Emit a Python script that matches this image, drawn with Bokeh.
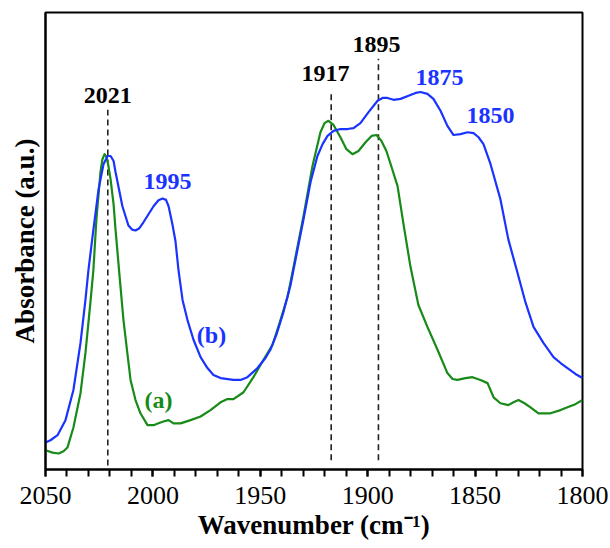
from bokeh.plotting import figure
from bokeh.models import Range1d, FixedTicker, ColumnDataSource
from bokeh.core.properties import value
from bokeh.embed import file_html
from bokeh.resources import INLINE

# ---- data ----
wn_a = [2050.0, 2046.7, 2043.9, 2041.6, 2039.8, 2037.0, 2033.7, 2031.4, 2029.1, 2027.7,
        2026.3, 2024.4, 2023.5, 2022.5, 2021.6, 2020.7, 2019.7, 2018.3, 2017.4, 2015.5,
        2013.7, 2011.8, 2010.4, 2008.1, 2005.8, 2002.5, 1999.7, 1997.4, 1995.1, 1992.7,
        1990.4, 1987.1, 1982.5, 1977.8, 1973.2, 1968.5, 1965.3, 1962.5, 1957.8, 1953.2,
        1948.5, 1944.3, 1940.6, 1937.3, 1934.5, 1929.9, 1925.7, 1922.0, 1920.1, 1918.3,
        1915.9, 1912.7, 1909.9, 1907.1, 1904.3, 1901.0, 1898.2, 1895.9, 1893.6, 1891.3,
        1888.9, 1886.1, 1883.3, 1880.1, 1876.4, 1872.2, 1867.5, 1862.9, 1860.5, 1858.2,
        1854.5, 1851.2, 1847.5, 1844.2, 1841.4, 1838.2, 1834.5, 1832.1, 1829.8, 1827.0,
        1824.2, 1820.5, 1814.9, 1810.2, 1807.0, 1803.3, 1800.0]
abs_a = [0.042, 0.037, 0.035, 0.040, 0.048, 0.092, 0.167, 0.255, 0.365, 0.437,
         0.547, 0.651, 0.679, 0.690, 0.684, 0.664, 0.635, 0.580, 0.525, 0.422,
         0.327, 0.251, 0.196, 0.152, 0.123, 0.097, 0.097, 0.101, 0.105, 0.108,
         0.101, 0.101, 0.108, 0.116, 0.130, 0.147, 0.154, 0.154, 0.169, 0.202,
         0.240, 0.273, 0.327, 0.378, 0.444, 0.554, 0.664, 0.738, 0.758, 0.763,
         0.754, 0.727, 0.701, 0.690, 0.697, 0.716, 0.730, 0.732, 0.719, 0.697,
         0.662, 0.620, 0.536, 0.444, 0.360, 0.312, 0.262, 0.211, 0.198, 0.196,
         0.200, 0.202, 0.196, 0.189, 0.158, 0.145, 0.141, 0.147, 0.152, 0.145,
         0.136, 0.123, 0.123, 0.130, 0.136, 0.143, 0.152]

wn_b = [2050.0, 2047.7, 2044.4, 2040.7, 2037.0, 2033.7, 2031.4, 2030.0, 2027.7, 2025.3,
        2023.0, 2021.1, 2019.7, 2018.3, 2017.4, 2014.2, 2011.4, 2009.7, 2008.1, 2006.3,
        2004.4, 1999.7, 1997.4, 1995.5, 1993.9, 1992.7, 1990.9, 1989.5, 1988.1, 1986.2,
        1983.9, 1981.1, 1977.8, 1974.6, 1971.8, 1968.5, 1962.5, 1959.2, 1956.0, 1951.3,
        1947.6, 1945.3, 1942.5, 1939.2, 1935.9, 1932.7, 1929.9, 1926.6, 1923.4, 1921.0,
        1918.7, 1915.9, 1912.7, 1909.4, 1906.6, 1903.4, 1899.6, 1895.4, 1893.1, 1890.8,
        1888.0, 1884.7, 1881.0, 1877.7, 1875.4, 1872.2, 1869.4, 1866.1, 1862.9, 1860.1,
        1856.8, 1853.5, 1850.7, 1848.4, 1846.1, 1842.8, 1838.2, 1834.5, 1830.3, 1826.5,
        1822.8, 1818.2, 1813.5, 1810.2, 1807.0, 1803.3, 1800.0]
abs_b = [0.059, 0.064, 0.075, 0.108, 0.174, 0.277, 0.371, 0.437, 0.525, 0.613,
         0.668, 0.686, 0.686, 0.675, 0.651, 0.576, 0.534, 0.525, 0.523, 0.528,
         0.541, 0.576, 0.589, 0.593, 0.590, 0.576, 0.536, 0.500, 0.437, 0.371,
         0.327, 0.284, 0.246, 0.222, 0.207, 0.200, 0.196, 0.196, 0.202, 0.222,
         0.244, 0.262, 0.295, 0.345, 0.404, 0.481, 0.547, 0.629, 0.686, 0.712,
         0.730, 0.741, 0.745, 0.745, 0.747, 0.758, 0.782, 0.807, 0.813, 0.813,
         0.809, 0.811, 0.818, 0.824, 0.826, 0.822, 0.811, 0.785, 0.752, 0.732,
         0.734, 0.738, 0.736, 0.727, 0.712, 0.668, 0.591, 0.503, 0.431, 0.365,
         0.312, 0.277, 0.246, 0.233, 0.222, 0.209, 0.200]

x_ticks = [2050, 2000, 1950, 1900, 1850, 1800]
minor_ticks = list(range(1800, 2051, 10))

marker_pos = [2021, 1917, 1895]
marker_bottom = [0.009, 0.020, 0.020]
marker_top = [0.787, 0.829, 0.899]

label_text = ["2021", "1917", "1895", "1995", "1875", "1850", "(b)", "(a)"]
label_x = [2021, 1919.6, 1895.9, 1993.2, 1866.6, 1842.8, 1972.7, 1997.4]
label_y = [0.818, 0.866, 0.930, 0.631, 0.857, 0.774, 0.295, 0.152]
label_color = ["black", "black", "black", "#1a33ff", "#1a33ff", "#1a33ff", "#1a33ff", "#178a17"]

GREEN = "#178a17"
BLUE = "#1a33ff"
FONT = "Liberation Serif"

p = figure(width=610, height=548, output_backend="svg", toolbar_location=None,
           x_range=Range1d(2050, 1800), y_range=Range1d(0, 1),
           min_border_left=45, min_border_right=28, min_border_top=12, min_border_bottom=79)
p.background_fill_color = "white"
p.border_fill_color = "white"
p.outline_line_color = "black"
p.outline_line_width = 2
p.xgrid.visible = False
p.ygrid.visible = False

# dashed markers
p.segment(x0=marker_pos, y0=marker_bottom, x1=marker_pos, y1=marker_top,
          line_color="#222222", line_width=1.6, line_dash="6 4")

p.line(wn_a, abs_a, line_color=GREEN, line_width=2.2, line_join="round")
p.line(wn_b, abs_b, line_color=BLUE, line_width=2.2, line_join="round")

src = ColumnDataSource(dict(x=label_x, y=label_y, t=label_text, c=label_color))
p.text(x="x", y="y", text="t", text_color="c", source=src,
       text_font=value(FONT), text_font_style="bold", text_font_size="24px",
       text_align="center", text_baseline="middle")

# x axis
xa = p.xaxis[0]
xa.ticker = FixedTicker(ticks=x_ticks, minor_ticks=minor_ticks)
xa.axis_line_width = 2
xa.axis_line_color = "black"
xa.major_tick_in = 0
xa.major_tick_out = 7
xa.minor_tick_in = 0
xa.minor_tick_out = 7
xa.major_tick_line_width = 2
xa.minor_tick_line_width = 2
xa.major_label_text_font = FONT
xa.major_label_text_font_size = "26px"
xa.major_label_text_color = "black"
xa.major_label_standoff = 10
xa.axis_label = "Wavenumber (cm\u207b\u00b9)"
xa.axis_label_text_font = FONT
xa.axis_label_text_font_style = "bold"
xa.axis_label_text_font_size = "27px"
xa.axis_label_text_color = "black"
xa.axis_label_standoff = 3

# y axis
ya = p.yaxis[0]
ya.ticker = FixedTicker(ticks=[])
ya.axis_line_width = 2
ya.axis_line_color = "black"
ya.major_tick_out = 0
ya.minor_tick_out = 0
ya.major_label_text_font_size = "0px"
ya.axis_label = "Absorbance (a.u.)"
ya.axis_label_text_font = FONT
ya.axis_label_text_font_style = "bold"
ya.axis_label_text_font_size = "27px"
ya.axis_label_text_color = "black"
ya.axis_label_standoff = 6

open("out.html", "w").write(file_html(p, INLINE))
